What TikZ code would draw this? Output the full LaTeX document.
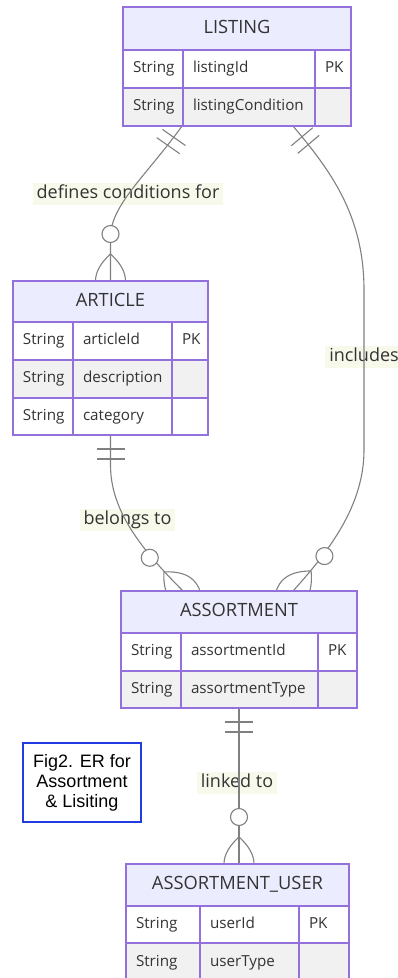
\documentclass[tikz,border=0pt]{standalone}
\usepackage{fontspec}
\setmainfont{Open Sans}
\newfontfamily\notefont{Liberation Sans}
\usetikzlibrary{calc}
\pgfdeclarelayer{edgelayer}
\pgfsetlayers{edgelayer,main}
\definecolor{tblborder}{RGB}{147,112,219}
\definecolor{hdrfill}{RGB}{236,236,255}
\definecolor{rowgrey}{RGB}{241,241,241}
\definecolor{txt}{RGB}{51,51,51}
\definecolor{edgecol}{RGB}{128,128,128}
\definecolor{lblbg}{RGB}{247,249,235}
\definecolor{noteblue}{RGB}{35,60,225}
\tikzset{
  tbl/.style={draw=tblborder, line width=1.2pt, inner ysep=0pt, inner xsep=10pt, outer sep=0pt, anchor=north west, text=txt},
  hdr/.style={tbl, fill=hdrfill, font=\fontsize{18.3}{22}\selectfont, text height=13pt, text depth=4pt, align=center},
  attr/.style={tbl, font=\fontsize{15.2}{18}\selectfont, text height=11pt, text depth=3.5pt, align=left, text width=#1},
  cellw/.style={attr=#1, fill=white},
  cellg/.style={attr=#1, fill=rowgrey},
  edge/.style={draw=edgecol, line width=1.1pt},
  lbl/.style={fill=lblbg, text=txt, font=\fontsize{18}{22}\selectfont, inner xsep=4pt, inner ysep=2.5pt, text height=13pt, text depth=4pt},
  note/.style={draw=noteblue, line width=2.2pt, text=black, font=\notefont\fontsize{18}{20}\selectfont, align=center, inner sep=0pt},
  onlyone/.pic={\draw[edge] (14,-14) -- (14,14) (24,-14) -- (24,14);},
  zeromany/.pic={\draw[edge] (27,0) .. controls (9,20) and (-9,20) .. (-27,0) .. controls (-9,-20) and (9,-20) .. (27,0);
                 \draw[edge, fill=white] (47,0) circle[radius=8.5];}
}
\begin{document}
\begin{tikzpicture}[x=1pt, y=-1pt]
\useasboundingbox (0,0) rectangle (398,978);

% ---------------- LISTING ----------------
\node[hdr, minimum width=228pt, minimum height=43pt] (lh) at (123,7) {LISTING};
\node[cellw=40pt, minimum height=38pt] (l1a) at (lh.south west) {String};
\node[cellw=112pt, minimum height=38pt] (l1b) at (l1a.north east) {listingId};
\node[cellw=16pt, minimum height=38pt] (l1c) at (l1b.north east) {PK};
\node[cellg=40pt, minimum height=38pt] (l2a) at (l1a.south west) {String};
\node[cellg=112pt, minimum height=38pt] (l2b) at (l2a.north east) {listingCondition};
\node[cellg=16pt, minimum height=38pt] (l2c) at (l2b.north east) {};

% ---------------- ARTICLE ----------------
\node[hdr, minimum width=195pt, minimum height=41pt] (ah) at (13,281) {ARTICLE};
\node[cellw=40pt, minimum height=38pt] (a1a) at (ah.south west) {String};
\node[cellw=79pt, minimum height=38pt] (a1b) at (a1a.north east) {articleId};
\node[cellw=16pt, minimum height=38pt] (a1c) at (a1b.north east) {PK};
\node[cellg=40pt, minimum height=38pt] (a2a) at (a1a.south west) {String};
\node[cellg=79pt, minimum height=38pt] (a2b) at (a2a.north east) {description};
\node[cellg=16pt, minimum height=38pt] (a2c) at (a2b.north east) {};
\node[cellw=40pt, minimum height=37pt] (a3a) at (a2a.south west) {String};
\node[cellw=79pt, minimum height=37pt] (a3b) at (a3a.north east) {category};
\node[cellw=16pt, minimum height=37pt] (a3c) at (a3b.north east) {};

% ---------------- ASSORTMENT ----------------
\node[hdr, minimum width=236pt, minimum height=42pt] (sh) at (121,591) {ASSORTMENT};
\node[cellw=40pt, minimum height=38pt] (s1a) at (sh.south west) {String};
\node[cellw=117pt, minimum height=38pt] (s1b) at (s1a.north east) {assortmentId};
\node[cellw=19pt, minimum height=38pt] (s1c) at (s1b.north east) {PK};
\node[cellg=40pt, minimum height=37pt] (s2a) at (s1a.south west) {String};
\node[cellg=117pt, minimum height=37pt] (s2b) at (s2a.north east) {assortmentType};
\node[cellg=19pt, minimum height=37pt] (s2c) at (s2b.north east) {};

% ---------------- ASSORTMENT_USER ----------------
\node[hdr, minimum width=223pt, minimum height=42pt] (uh) at (126,864) {ASSORTMENT\_USER};
\node[cellw=54pt, minimum height=37pt] (u1a) at (uh.south west) {String};
\node[cellw=79pt, minimum height=37pt] (u1b) at (u1a.north east) {userId};
\node[cellw=30pt, minimum height=37pt] (u1c) at (u1b.north east) {PK};
\node[cellg=54pt, minimum height=40pt] (u2a) at (u1a.south west) {String};
\node[cellg=79pt, minimum height=40pt] (u2b) at (u2a.north east) {userType};
\node[cellg=30pt, minimum height=40pt] (u2c) at (u2b.north east) {};

% ---------------- note ----------------
\node[note, minimum width=118pt, minimum height=79pt] (fig) at (82,782.5) {Fig2. ER for\\Assortment\\\& Lisiting};

% ---------------- relationships ----------------
\begin{pgfonlayer}{edgelayer}
\node[lbl] (t1) at (128,194) {defines conditions for};
\node[lbl] (t2) at (364,357) {includes};
\node[lbl] (t3) at (127.5,520) {belongs to};
\node[lbl] (t4) at (237,783) {linked to};

% LISTING -> ARTICLE
\draw[edge] ([xshift=59pt]l2a.south west) .. controls (147,175) and (110.5,205) .. (110.5,237) -- (ah.north);
\pic[rotate=-125] at ([xshift=59pt]l2a.south west) {onlyone};
\pic[rotate=90] at (ah.north) {zeromany};

% LISTING -> ASSORTMENT
\draw[edge] ([xshift=110pt]l2b.south west) .. controls (330,170) and (364,215) .. (364,290)
  -- (364,450) .. controls (364,505) and (330,550) .. ([xshift=172pt]sh.north west);
\pic[rotate=-50] at ([xshift=110pt]l2b.south west) {onlyone};
\pic[rotate=48] at ([xshift=172pt]sh.north west) {zeromany};

% ARTICLE -> ASSORTMENT
\draw[edge] (ah.north |- a3a.south) -- (110.5,465) .. controls (110.5,510) and (140,548) .. ([xshift=62pt]sh.north west);
\pic[rotate=-90] at (ah.north |- a3a.south) {onlyone};
\pic[rotate=135] at ([xshift=62pt]sh.north west) {zeromany};

% ASSORTMENT -> ASSORTMENT_USER
\draw[edge] (sh.north |- s2a.south) -- (sh.north |- uh.north);
\pic[rotate=-90] at (sh.north |- s2a.south) {onlyone};
\pic[rotate=90] at (sh.north |- uh.north) {zeromany};
\end{pgfonlayer}
\end{tikzpicture}
\end{document}
